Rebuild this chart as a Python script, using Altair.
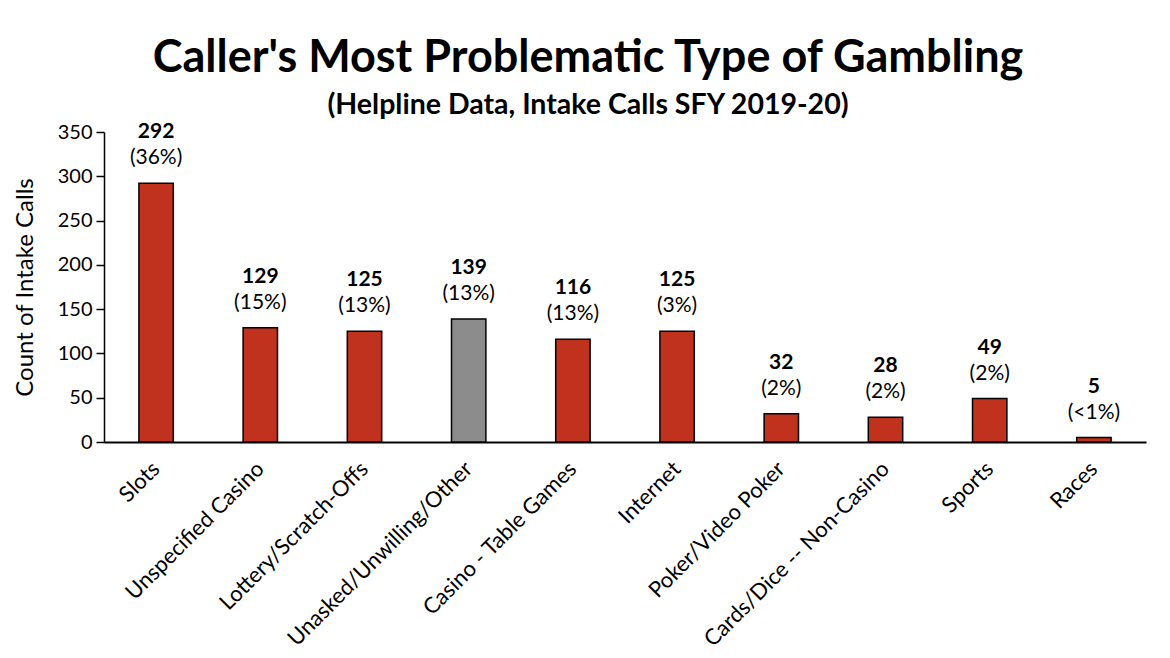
import altair as alt
import pandas as pd

categories = ["Slots", "Unspecified Casino", "Lottery/Scratch-Offs", "Unasked/Unwilling/Other",
              "Casino - Table Games", "Internet", "Poker/Video Poker", "Cards/Dice -- Non-Casino",
              "Sports", "Races"]
counts = [292, 129, 125, 139, 116, 125, 32, 28, 49, 5]
percents = ["(36%)", "(15%)", "(13%)", "(13%)", "(13%)", "(3%)", "(2%)", "(2%)", "(2%)", "(<1%)"]
y_ticks = [0, 50, 100, 150, 200, 250, 300, 350]

df = pd.DataFrame({"category": categories, "count": counts, "pct": percents})

FONT = "Lato"
RED = "#C0311E"
GRAY = "#8C8C8C"

x_enc = alt.X("category:N", sort=categories, title=None,
              scale=alt.Scale(paddingInner=0.67, paddingOuter=0.335),
              axis=alt.Axis(labelAngle=-45, labelAlign="right", labelBaseline="middle",
                            labelFontSize=22, labelFont=FONT, labelColor="black",
                            labelPadding=23, ticks=False, domainColor="black",
                            domainWidth=2, labelLimit=400))
y_enc = alt.Y("count:Q", title="Count of Intake Calls",
              scale=alt.Scale(domain=[0, 350], nice=False),
              axis=alt.Axis(values=y_ticks, grid=False, labelFontSize=20, labelFont=FONT,
                            labelColor="black", tickColor="black", tickSize=8, tickWidth=1.5,
                            domainColor="black", domainWidth=1.5, labelPadding=4,
                            titleFontSize=24, titleFont=FONT, titleFontWeight="normal",
                            titleColor="black", titlePadding=20))

base = alt.Chart(df)

bars = base.mark_bar(stroke="black", strokeWidth=1.5).encode(
    x=x_enc, y=y_enc,
    color=alt.condition(alt.datum.category == "Unasked/Unwilling/Other",
                        alt.value(GRAY), alt.value(RED)),
)

val_text = base.mark_text(fontSize=21, font=FONT, fontWeight="bold", color="black",
                          baseline="middle", dy=-51).encode(
    x=alt.X("category:N", sort=categories), y="count:Q", text="count:Q")

pct_text = base.mark_text(fontSize=21, font=FONT, color="black",
                          baseline="middle", dy=-25).encode(
    x=alt.X("category:N", sort=categories), y="count:Q", text="pct:N")

chart = alt.layer(bars, val_text, pct_text).properties(
    width=1042, height=310,
    autosize=alt.AutoSizeParams(type="none"),
    padding={"left": 96, "top": 124, "right": 10, "bottom": 208},
    title=alt.TitleParams(
        text="Caller's Most Problematic Type of Gambling",
        subtitle="(Helpline Data, Intake Calls SFY 2019-20)",
        anchor="middle", frame="group", dx=-37, offset=2,
        font=FONT, fontSize=45, fontWeight="bold", color="black",
        subtitleFont=FONT, subtitleFontSize=28.5, subtitleFontWeight="bold",
        subtitleColor="black", subtitlePadding=10),
).configure_view(stroke=None)

chart.save("out.html", embed_options={"renderer": "svg", "actions": False})
